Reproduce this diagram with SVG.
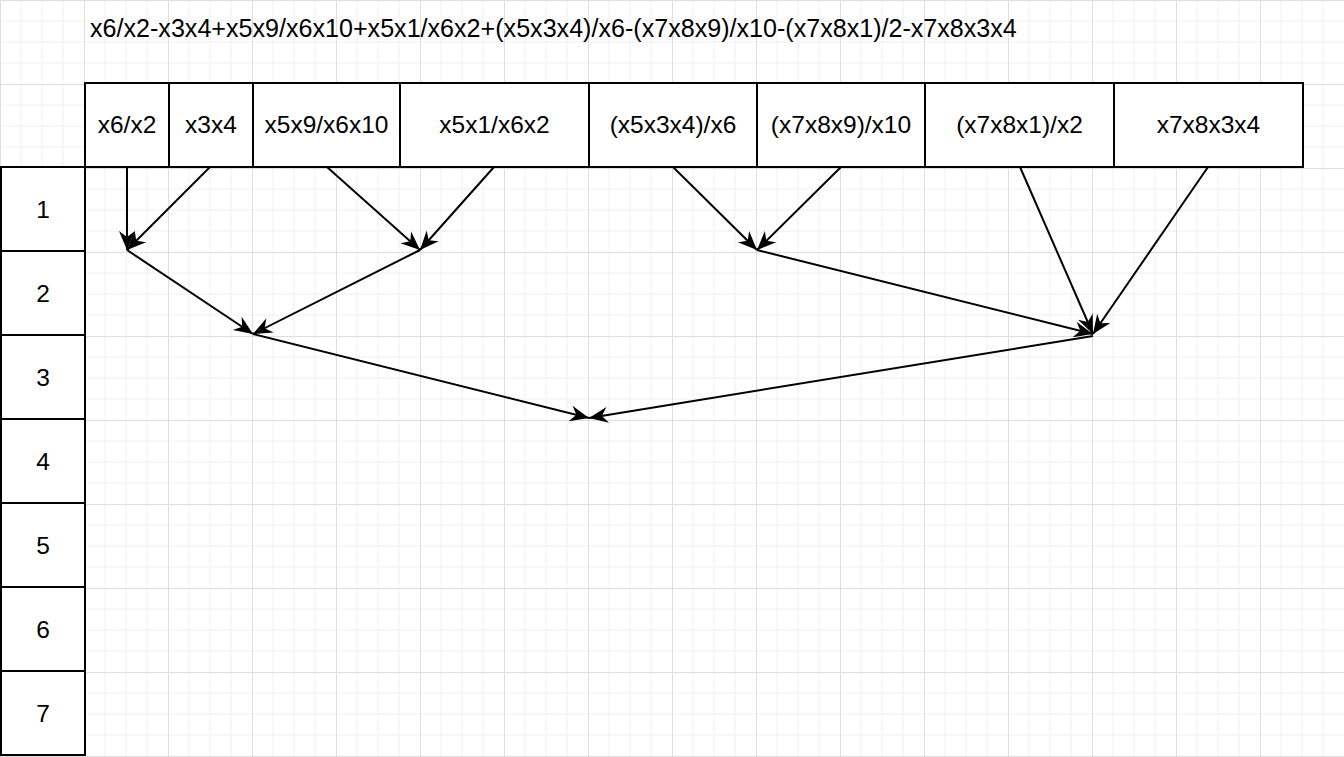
<svg xmlns="http://www.w3.org/2000/svg" width="1344" height="757" viewBox="0 0 1344 757">
<defs>
<pattern id="grid" x="0" y="0" width="84" height="84" patternUnits="userSpaceOnUse">
<path d="M21 0V84M42 0V84M63 0V84M0 21H84M0 42H84M0 63H84" stroke="#f0f0f0" stroke-width="1" fill="none"/>
<path d="M0.5 0V84M0 0.5H84" stroke="#dedede" stroke-width="1" fill="none"/>
</pattern>
<marker id="arr" markerUnits="userSpaceOnUse" markerWidth="26" markerHeight="22" viewBox="-22 -11 26 22" refX="0" refY="0" orient="auto">
<path d="M0,0 L-19,-8 L-13,0 L-19,8 Z" fill="#000"/>
</marker>
</defs>
<style>
.cell{fill:#fff;stroke:#000;stroke-width:2}
.t{font-family:"Liberation Sans",Arial,sans-serif;font-size:24.5px;fill:#000;text-anchor:middle}
.c{stroke:#000;stroke-width:2;fill:none;marker-end:url(#arr)}
</style>
<rect width="1344" height="757" fill="#fff"/>
<rect width="1344" height="757" fill="url(#grid)"/>
<g id="title"><text x="90" y="37" class="t" style="text-anchor:start;font-size:25.1px">x6/x2-x3x4+x5x9/x6x10+x5x1/x6x2+(x5x3x4)/x6-(x7x8x9)/x10-(x7x8x1)/2-x7x8x3x4</text></g>
<g id="h1"><rect class="cell" x="85" y="83" width="84" height="84"/><text class="t" x="127" y="133">x6/x2</text></g>
<g id="h2"><rect class="cell" x="169" y="83" width="84" height="84"/><text class="t" x="211" y="133">x3x4</text></g>
<g id="h3"><rect class="cell" x="253" y="83" width="147" height="84"/><text class="t" x="326.5" y="133">x5x9/x6x10</text></g>
<g id="h4"><rect class="cell" x="400" y="83" width="189" height="84"/><text class="t" x="494.5" y="133">x5x1/x6x2</text></g>
<g id="h5"><rect class="cell" x="589" y="83" width="168" height="84"/><text class="t" x="673" y="133">(x5x3x4)/x6</text></g>
<g id="h6"><rect class="cell" x="757" y="83" width="168" height="84"/><text class="t" x="841" y="133">(x7x8x9)/x10</text></g>
<g id="h7"><rect class="cell" x="925" y="83" width="189" height="84"/><text class="t" x="1019.5" y="133">(x7x8x1)/x2</text></g>
<g id="h8"><rect class="cell" x="1114" y="83" width="189" height="84"/><text class="t" x="1208.5" y="133">x7x8x3x4</text></g>
<g id="r1"><rect class="cell" x="1" y="167" width="84" height="84"/><text class="t" x="43" y="218">1</text></g>
<g id="r2"><rect class="cell" x="1" y="251" width="84" height="84"/><text class="t" x="43" y="302">2</text></g>
<g id="r3"><rect class="cell" x="1" y="335" width="84" height="84"/><text class="t" x="43" y="386">3</text></g>
<g id="r4"><rect class="cell" x="1" y="419" width="84" height="84"/><text class="t" x="43" y="470">4</text></g>
<g id="r5"><rect class="cell" x="1" y="503" width="84" height="84"/><text class="t" x="43" y="554">5</text></g>
<g id="r6"><rect class="cell" x="1" y="587" width="84" height="84"/><text class="t" x="43" y="638">6</text></g>
<g id="r7"><rect class="cell" x="1" y="671" width="84" height="84"/><text class="t" x="43" y="722">7</text></g>
<g id="connectors">
<path class="c" d="M127 167L127 250"/>
<path class="c" d="M210 167L127 250"/>
<path class="c" d="M327 167L420 250"/>
<path class="c" d="M494 167L420 250"/>
<path class="c" d="M127 250L253 334"/>
<path class="c" d="M420 250L253 334"/>
<path class="c" d="M673 167L757 250"/>
<path class="c" d="M841 167L757 250"/>
<path class="c" d="M1020 167L1093 334"/>
<path class="c" d="M1208 167L1093 334"/>
<path class="c" d="M757 250L1093 334"/>
<path class="c" d="M253 334L589 418"/>
<path class="c" d="M1093 336L589 418"/>
</g>
</svg>
